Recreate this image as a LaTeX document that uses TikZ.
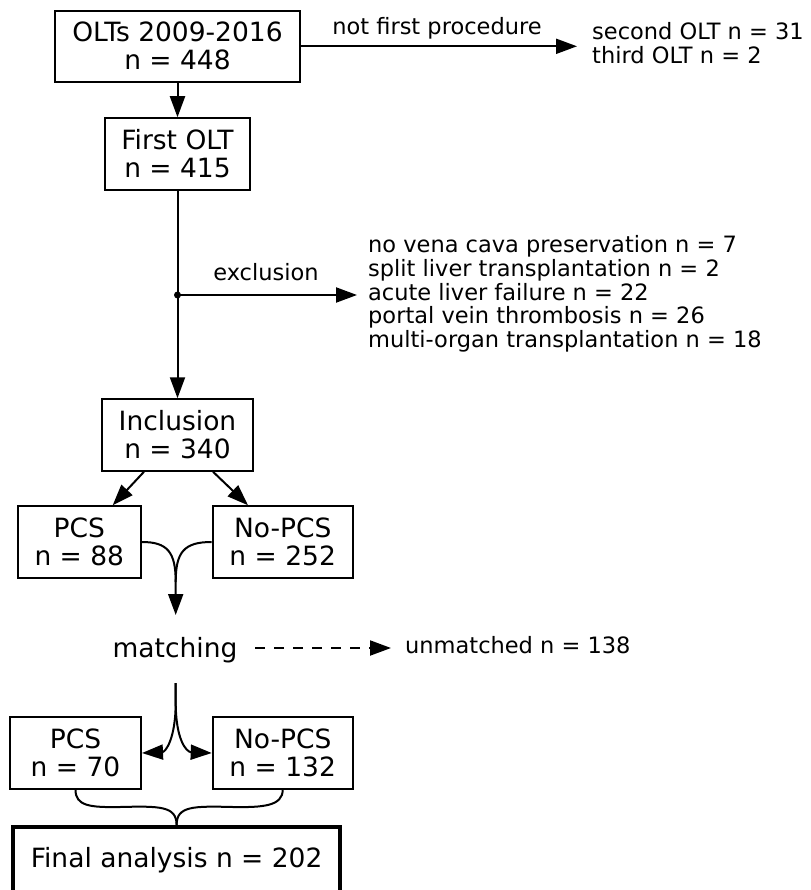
\documentclass[tikz,border=0pt]{standalone}
\usepackage{fontspec}
\setmainfont{DejaVu Sans}
\usetikzlibrary{arrows.meta,calc}
\newcommand\fbig{\fontsize{26.5}{28}\selectfont}
\newcommand\fsmall{\fontsize{22.5}{23.7}\selectfont}
\begin{document}
\begin{tikzpicture}[x=1pt,y=-1pt,
  box/.style={draw, line width=2pt, inner sep=0pt, align=center, font=\fbig, minimum height=71.5pt},
  lbl/.style={font=\fsmall, inner sep=0pt},
  ln/.style={line width=2pt},
  arr/.style={line width=2pt, -{Triangle[length=21pt,width=15pt]}}]
\useasboundingbox (0,0) rectangle (810,890);
\clip (0,0) rectangle (810,890);
% boxes
\node[box, minimum width=245pt] (olt) at (177.5,46.3) {OLTs 2009-2016\\n = 448};
\node[box, minimum width=145pt] (first) at (177.5,154) {First OLT\\n = 415};
\node[box, minimum width=151pt] (incl) at (177.5,435) {Inclusion\\n = 340};
\node[box, minimum width=123pt] (pcsa) at (79.3,542) {PCS\\n = 88};
\node[box, minimum width=140pt] (nopcsa) at (282.7,542) {No-PCS\\n = 252};
\node[font=\fbig, inner sep=0pt, anchor=base] (match) at (175,657) {matching};
\node[box, minimum width=131pt] (pcsb) at (75.5,753) {PCS\\n = 70};
\node[box, minimum width=140pt] (nopcsb) at (282.7,753) {No-PCS\\n = 132};
\node[draw, line width=4pt, font=\fbig, text height=20pt, text depth=40pt, inner ysep=20pt, inner xsep=0pt,
      minimum width=326.7pt, anchor=north] (final) at (176.6,825) {Final analysis n = 202};
% side texts
\node[lbl, anchor=base] (nfp) at (437,35) {not first procedure};
\node[lbl, anchor=west, align=left] (second) at (592,43) {second OLT n = 31\\third OLT n = 2};
\node[lbl, anchor=base] (excl) at (266,280) {exclusion};
\node[lbl, anchor=west, align=left] (exlist) at (368,294) {no vena cava preservation n = 7\\split liver transplantation n = 2\\acute liver failure n = 22\\portal vein thrombosis n = 26\\multi-organ transplantation n = 18};
\node[lbl, anchor=base west] (unm) at (405,653) {unmatched n = 138};
% coordinates
\coordinate (nfend) at (577,46.3);
\coordinate (exdot) at (177.5,295);
\coordinate (exend) at (357,295);
\coordinate (mtop) at (175.7,615);
\coordinate (dstart) at (255,648);
\coordinate (dend) at (391,648);
\coordinate (splittop) at (175.7,683);
% connectors
\draw[arr] (olt.south) -- (first.north);
\draw[arr] (olt.east) -- (nfend);
\draw[arr] (first.south) -- (incl.north);
\fill (exdot) circle (3.5pt);
\draw[arr] (exdot) -- (exend);
\draw[arr] ($(incl.south)+(-33.5,0)$) -- ($(pcsa.north)+(33.4,0)$);
\draw[arr] ($(incl.south)+(35.5,0)$) -- ($(nopcsa.north)+(-34.7,0)$);
\draw[ln] (nopcsa.west) .. controls (184,542) and (175.7,552) .. (175.7,582);
\draw[arr] (pcsa.east) .. controls (167.5,542) and (175.7,552) .. (175.7,582) -- (mtop);
\draw[arr, dash pattern=on 10pt off 9pt] (dstart) -- (dend);
\draw[arr] (splittop) -- (175.7,702) .. controls (175.7,740) and (165,752) .. (pcsb.east);
\draw[arr] (splittop) -- (175.7,702) .. controls (175.7,740) and (186.4,752) .. (nopcsb.west);
% brace
\draw[ln] (pcsb.south) .. controls (75.5,806) and (90,807.5) .. (120,807) .. controls (160,806) and (176.6,806) .. (final.north);
\draw[ln] (nopcsb.south) .. controls (282.7,806) and (263,807.5) .. (233,807) .. controls (193,806) and (176.6,806) .. (final.north);
\end{tikzpicture}
\end{document}
